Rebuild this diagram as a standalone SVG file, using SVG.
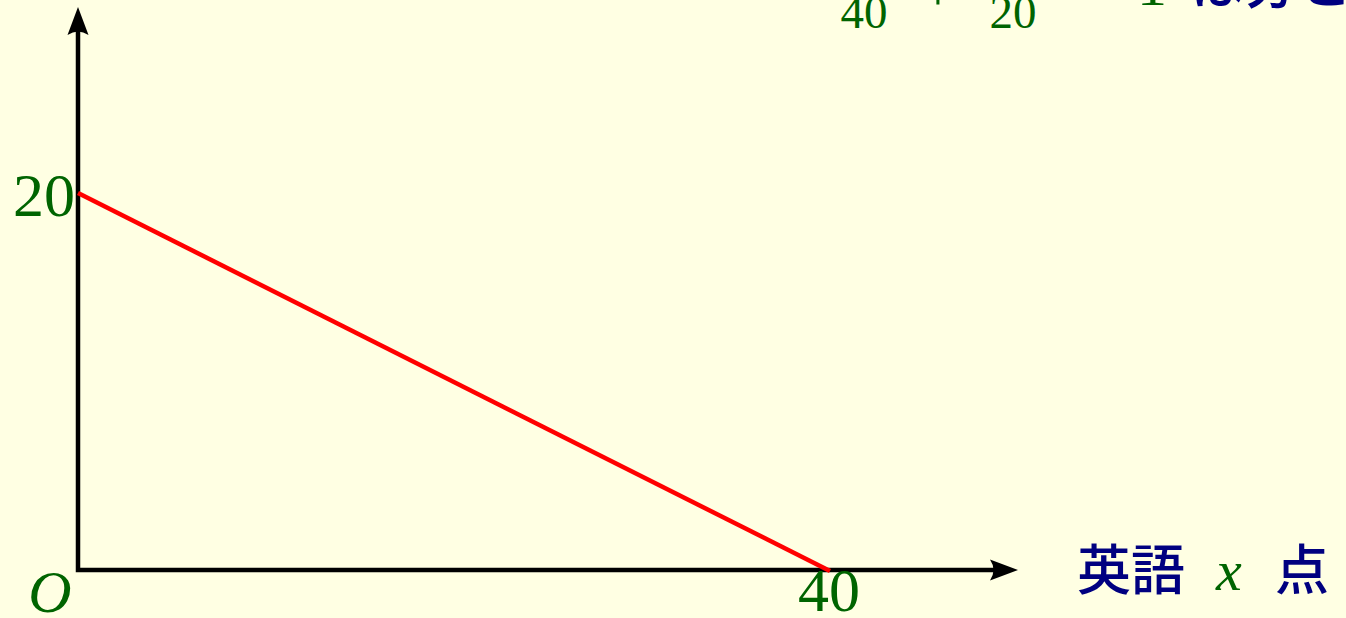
<svg xmlns="http://www.w3.org/2000/svg" width="1346" height="618" viewBox="0 0 1346 618">
<defs>
<style>
.math{font-family:"Liberation Serif","DejaVu Serif",serif;fill:#006400}
.jp{font-family:"Noto Sans CJK JP","Noto Sans",sans-serif;fill:#000080;font-weight:500}
.axis{stroke:#000;stroke-width:4.5;fill:none}
</style>
<marker id="arr" markerUnits="userSpaceOnUse" markerWidth="40" markerHeight="40" viewBox="-20 -20 40 40" refX="0" refY="0" orient="auto-start-reverse" overflow="visible">
<path d="M14,0 L-14,-10.5 Q-7,0 -14,10.5 Z" fill="#000"/>
</marker>
</defs>
<rect width="1346" height="618" fill="#ffffe3"/>
<g id="connectors">
<path class="axis" d="M78,21 L78,570 L1004,570" marker-start="url(#arr)" marker-end="url(#arr)" stroke-linejoin="miter"/>
<line x1="78" y1="193" x2="830" y2="571" stroke="#ff0000" stroke-width="4.5"/>
</g>
<g id="labels">
<text class="math" x="75" y="216" font-size="62" text-anchor="end">20</text>
<text class="math" x="829" y="611" font-size="62" text-anchor="middle">40</text>
<text class="math" x="50" y="612" font-size="60" font-style="italic" text-anchor="middle">O</text>
<text class="math" x="864" y="28" font-size="47" text-anchor="middle">40</text>
<text class="math" x="938" y="10" font-size="60" text-anchor="middle">+</text>
<text class="math" x="1013" y="28" font-size="47" text-anchor="middle">20</text>
<text class="math" x="1152" y="5" font-size="60" text-anchor="middle">1</text>
<text class="jp" x="1190" y="4" font-size="54">は分と</text>
<text class="jp" x="1077" y="590" font-size="54">英語</text>
<text class="math" x="1216" y="590" font-size="58" font-style="italic">x</text>
<text class="jp" x="1275" y="590" font-size="54">点</text>
</g>
</svg>
